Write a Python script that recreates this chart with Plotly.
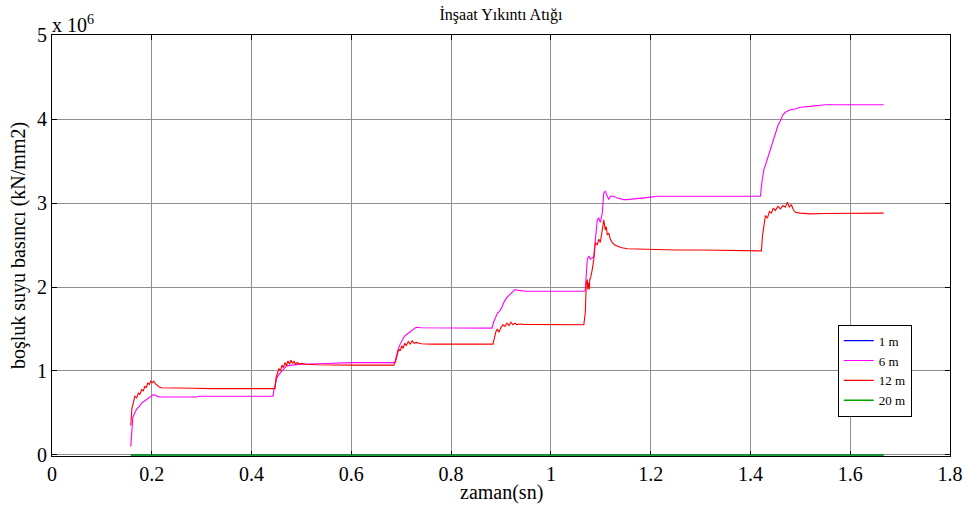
import plotly.graph_objects as go

# ---- data (time in s, pressure in units of 1e6 kN/mm2) ----
t_flat = [0.158, 1.667]
v_1m = [0.0, 0.0]
v_20m = [0.0, 0.0]

t_6m = [0.158, 0.160, 0.162, 0.166, 0.170, 0.175, 0.180, 0.185, 0.190, 0.195, 0.200, 0.203, 0.207, 0.212,
        0.22, 0.29, 0.295, 0.35, 0.443, 0.445, 0.448, 0.451, 0.455, 0.460, 0.465, 0.470, 0.480, 0.50, 0.55,
        0.60, 0.687, 0.690, 0.694, 0.698, 0.702, 0.706, 0.712, 0.718, 0.724, 0.73, 0.74, 0.80, 0.882, 0.885,
        0.889, 0.893, 0.897, 0.902, 0.906, 0.911, 0.916, 0.922, 0.928, 0.935, 0.95, 1.0, 1.068, 1.069, 1.073,
        1.076, 1.079, 1.086, 1.089, 1.093, 1.096, 1.099, 1.103, 1.106, 1.109, 1.113, 1.116, 1.119, 1.126,
        1.133, 1.146, 1.153, 1.173, 1.2, 1.213, 1.26, 1.42, 1.423, 1.427, 1.430, 1.435, 1.440, 1.445, 1.450,
        1.455, 1.460, 1.465, 1.470, 1.480, 1.490, 1.50, 1.52, 1.55, 1.60, 1.667]
v_6m = [0.10, 0.30, 0.45, 0.50, 0.55, 0.58, 0.62, 0.64, 0.66, 0.69, 0.71, 0.72, 0.71, 0.695,
        0.69, 0.69, 0.70, 0.70, 0.70, 0.78, 0.86, 0.92, 0.96, 0.99, 1.03, 1.06, 1.07, 1.08, 1.09,
        1.10, 1.10, 1.18, 1.26, 1.32, 1.36, 1.41, 1.44, 1.47, 1.50, 1.52, 1.515, 1.51, 1.51, 1.58,
        1.64, 1.69, 1.71, 1.76, 1.82, 1.87, 1.90, 1.94, 1.97, 1.96, 1.95, 1.95, 1.95, 1.97, 2.33,
        2.37, 2.33, 2.36, 2.53, 2.80, 2.82, 2.77, 2.88, 3.12, 3.14, 3.08, 3.04, 3.08, 3.08,
        3.06, 3.04, 3.04, 3.05, 3.07, 3.08, 3.08, 3.08, 3.25, 3.40, 3.45, 3.55, 3.62, 3.75, 3.85,
        3.92, 3.98, 4.05, 4.08, 4.11, 4.12, 4.14, 4.15, 4.17, 4.17, 4.17]

t_12m = [0.158, 0.160, 0.163, 0.166, 0.170, 0.173, 0.176, 0.180, 0.183, 0.186, 0.189, 0.192, 0.195, 0.198,
         0.201, 0.204, 0.207, 0.210, 0.215, 0.220, 0.23, 0.26, 0.28, 0.32, 0.35, 0.40, 0.445, 0.447, 0.449,
         0.452, 0.455, 0.458, 0.461, 0.464, 0.467, 0.470, 0.473, 0.476, 0.479, 0.482, 0.485, 0.488, 0.492,
         0.496, 0.50, 0.51, 0.53, 0.6, 0.685, 0.689, 0.692, 0.695, 0.698, 0.701, 0.704, 0.707, 0.710, 0.714,
         0.718, 0.722, 0.726, 0.73, 0.74, 0.76, 0.80, 0.884, 0.887, 0.890, 0.893, 0.896, 0.900, 0.904, 0.908,
         0.912, 0.916, 0.920, 0.924, 0.928, 0.932, 0.936, 0.945, 1.0, 1.066, 1.069, 1.071, 1.073, 1.074,
         1.075, 1.077, 1.078, 1.080, 1.083, 1.086, 1.089, 1.093, 1.096, 1.099, 1.103, 1.106, 1.109, 1.111,
         1.113, 1.116, 1.119, 1.123, 1.128, 1.133, 1.14, 1.153, 1.18, 1.25, 1.30, 1.42, 1.422, 1.424, 1.427,
         1.430, 1.434, 1.438, 1.442, 1.446, 1.450, 1.455, 1.460, 1.465, 1.470, 1.474, 1.478, 1.482, 1.486,
         1.490, 1.50, 1.52, 1.55, 1.60, 1.667]
v_12m = [0.35, 0.55, 0.62, 0.70, 0.68, 0.74, 0.72, 0.78, 0.76, 0.82, 0.80, 0.86, 0.84, 0.88,
         0.86, 0.88, 0.85, 0.83, 0.81, 0.80, 0.80, 0.80, 0.795, 0.79, 0.79, 0.79, 0.79, 0.79, 0.92,
         0.98, 1.03, 1.00, 1.07, 1.04, 1.10, 1.06, 1.12, 1.08, 1.13, 1.09, 1.12, 1.08, 1.10,
         1.08, 1.09, 1.08, 1.075, 1.07, 1.07, 1.12, 1.20, 1.26, 1.24, 1.30, 1.27, 1.33, 1.30, 1.35,
         1.32, 1.36, 1.33, 1.34, 1.325, 1.32, 1.32, 1.32, 1.40, 1.47, 1.50, 1.46, 1.52, 1.55, 1.53,
         1.57, 1.54, 1.58, 1.55, 1.57, 1.55, 1.56, 1.555, 1.55, 1.55, 1.70, 2.05, 2.09, 1.97,
         2.05, 1.97, 2.09, 2.12, 2.21, 2.33, 2.53, 2.50, 2.57, 2.53, 2.68, 2.80, 2.68, 2.72,
         2.62, 2.64, 2.57, 2.53, 2.50, 2.49, 2.47, 2.455, 2.45, 2.44, 2.44, 2.43, 2.43, 2.60, 2.75,
         2.85, 2.82, 2.90, 2.88, 2.94, 2.91, 2.96, 2.93, 2.97, 2.95, 3.01, 2.95, 2.98, 2.92,
         2.89, 2.88, 2.87, 2.875, 2.88, 2.88]

x_ticks = [0, 0.2, 0.4, 0.6, 0.8, 1, 1.2, 1.4, 1.6, 1.8]
x_tick_labels = ["0", "0.2", "0.4", "0.6", "0.8", "1", "1.2", "1.4", "1.6", "1.8"]
y_ticks = [0, 1, 2, 3, 4, 5]
y_tick_labels = ["0", "1", "2", "3", "4", "5"]

SERIF = "Liberation Serif, Times New Roman, serif"

fig = go.Figure()
fig.add_trace(go.Scatter(x=t_flat, y=v_1m, mode="lines", name="1 m",
                         line=dict(color="#0000ff", width=1.2)))
fig.add_trace(go.Scatter(x=t_6m, y=v_6m, mode="lines", name="6 m",
                         line=dict(color="#ff00ff", width=1.1)))
fig.add_trace(go.Scatter(x=t_12m, y=v_12m, mode="lines", name="12 m",
                         line=dict(color="#ff0000", width=1.1)))
fig.add_trace(go.Scatter(x=t_flat, y=v_20m, mode="lines", name="20 m",
                         line=dict(color="#00a800", width=1.6)))

axis_common = dict(showline=True, linecolor="black", linewidth=1, mirror="allticks",
                   ticks="inside", ticklen=5, tickcolor="black", tickwidth=1,
                   showgrid=True, gridcolor="#8f8f8f", gridwidth=1, zeroline=False,
                   automargin=False, layer="below traces",
                   tickfont=dict(family=SERIF, size=20, color="black"))

fig.update_xaxes(range=[0, 1.8], tickvals=x_ticks, ticktext=x_tick_labels, **axis_common)
fig.update_yaxes(range=[-0.012, 5], tickvals=y_ticks, ticktext=y_tick_labels,
                 title=dict(text="boşluk suyu basıncı (kN/mm2)",
                            font=dict(family=SERIF, size=20, color="black"), standoff=6),
                 **axis_common)

# x-axis title, placed a little closer to the tick labels than plotly's axis title allows
fig.add_annotation(text="zaman(sn)", xref="paper", yref="paper", x=0.5, y=0.0,
                   xanchor="center", yanchor="top", showarrow=False, yshift=-23,
                   font=dict(family=SERIF, size=20, color="black"))

fig.add_annotation(text="x 10<sup>6</sup>", xref="paper", yref="paper", x=0.0, y=1.0,
                   xanchor="left", yanchor="bottom", showarrow=False, xshift=-2, yshift=-3,
                   font=dict(family=SERIF, size=20, color="black"))

fig.update_layout(
    width=973, height=508,
    margin=dict(l=52, r=23, t=35, b=52),
    paper_bgcolor="white", plot_bgcolor="white",
    title=dict(text="İnşaat Yıkıntı Atığı", xref="paper", x=0.5, xanchor="center",
               yref="container", y=0.971, yanchor="middle",
               font=dict(family=SERIF, size=16, color="black")),
    legend=dict(x=0.875, y=0.312, xanchor="left", yanchor="top",
                bgcolor="white", bordercolor="black", borderwidth=1,
                font=dict(family=SERIF, size=13, color="black"),
                tracegroupgap=0, itemwidth=30),
    showlegend=True,
)

# remove the default 8px page margin so the figure fills the window exactly
fig.write_html("out.html", config={"displayModeBar": False},
               post_script="document.body.style.margin='0';")
